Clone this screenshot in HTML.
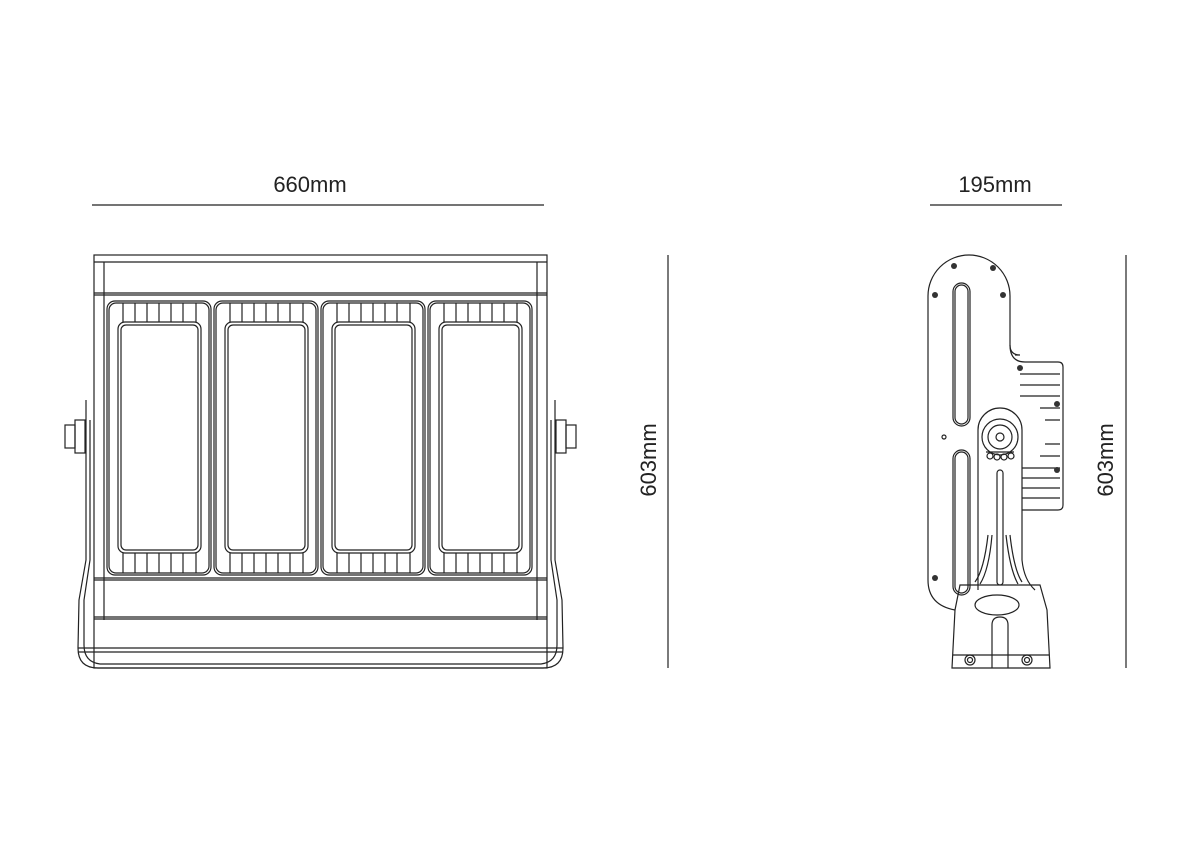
<!DOCTYPE html>
<html><head><meta charset="utf-8"><style>
html,body{margin:0;padding:0;background:#fff;}
svg{display:block}
text{font-family:"Liberation Sans",sans-serif;font-size:22px;fill:#222}
</style></head><body>
<svg width="1191" height="842" viewBox="0 0 1191 842" xmlns="http://www.w3.org/2000/svg">
<g fill="none" stroke="#222" stroke-width="1.2">
<line x1="92" y1="205" x2="544" y2="205"/>
<line x1="930" y1="205" x2="1062" y2="205"/>
<line x1="668" y1="255" x2="668" y2="668"/>
<line x1="1126" y1="255" x2="1126" y2="668"/>

<rect x="94" y="255" width="453" height="413"/>
<line x1="94" y1="262" x2="547" y2="262"/>
<line x1="104" y1="262" x2="104" y2="620"/>
<line x1="537" y1="262" x2="537" y2="620"/>
<line x1="94" y1="293" x2="547" y2="293"/>
<line x1="94" y1="295" x2="547" y2="295"/>
<line x1="94" y1="578" x2="547" y2="578"/>
<line x1="94" y1="580" x2="547" y2="580"/>
<line x1="94" y1="617" x2="547" y2="617"/>
<line x1="94" y1="619" x2="547" y2="619"/>
<line x1="78" y1="648" x2="563" y2="648"/>
<line x1="78" y1="652" x2="563" y2="652"/>
<path d="M86 400 L86 560 L79 600 L78 648 Q78 668 98 668 L543 668 Q563 668 563 648 L562 600 L555 560 L555 400"/>
<path d="M90 420 L90 560 L84 600 L84 645 Q84 662 100 664 L541 664 Q557 662 557 645 L557 600 L551 560 L551 420"/>
<rect x="65" y="425" width="10" height="23"/>
<rect x="75" y="420" width="10" height="33"/>
<rect x="566" y="425" width="10" height="23"/>
<rect x="556" y="420" width="10" height="33"/>

<g id="p">
<rect x="107" y="301" width="104" height="274" rx="8"/>
<rect x="109" y="303" width="100" height="270" rx="7"/>
<rect x="118" y="322" width="83" height="231" rx="7"/>
<rect x="121" y="325" width="77" height="225" rx="5"/>
<path d="M123 303V322M135 303V322M147 303V322M159 303V322M171 303V322M183 303V322M196 303V322"/>
<path d="M123 553V573M135 553V573M147 553V573M159 553V573M171 553V573M183 553V573M196 553V573"/>
</g>
<use href="#p" x="107"/>
<use href="#p" x="214"/>
<use href="#p" x="321"/>

<path d="M928 296 A41 41 0 0 1 1010 296 L1010 345 Q1010 355 1020 355 L1015 355"/>
<path d="M928 296 L928 580 Q928 605 955 610"/>
<path d="M1010 345 Q1010 362 1025 362 L1058 362 Q1063 362 1063 367 L1063 505 Q1063 510 1058 510 L1022 510"/>
<path d="M1020 374H1060M1020 385H1060M1020 396H1060M1040 408H1060M1045 420H1060M1045 444H1060M1040 456H1060M1022 468H1060M1022 478H1060M1022 488H1060M1022 498H1060"/>
<rect x="953" y="283" width="17" height="143" rx="8.5"/>
<rect x="955" y="285" width="13" height="139" rx="6.5"/>
<rect x="953" y="450" width="17" height="145" rx="8.5"/>
<rect x="955" y="452" width="13" height="141" rx="6.5"/>
<circle cx="944" cy="437" r="2"/>
<path d="M978 590 L978 430 A22 22 0 0 1 1022 430 L1022 560 Q1024 580 1035 590"/>
<circle cx="1000" cy="437" r="18"/>
<circle cx="1000" cy="437" r="12"/>
<circle cx="1000" cy="437" r="4"/>
<path d="M986 452h28"/>
<circle cx="990" cy="456" r="3"/><circle cx="997" cy="457" r="3"/><circle cx="1004" cy="457" r="3"/><circle cx="1011" cy="456" r="3"/>
<rect x="997" y="470" width="6" height="115" rx="3"/>
<path d="M988 535 Q984 570 975 582 M1010 535 Q1014 570 1022 582"/>
<path d="M992 535 Q989 570 980 584 M1006 535 Q1010 570 1018 584"/>
<path d="M960 585 L1040 585 L1047 610 L1050 668 L952 668 L955 610 Z"/>
<ellipse cx="997" cy="605" rx="22" ry="10"/>
<path d="M992 668 L992 625 Q992 617 1000 617 Q1008 617 1008 625 L1008 668"/>
<line x1="953" y1="655" x2="1049" y2="655"/>
<circle cx="970" cy="660" r="5"/><circle cx="970" cy="660" r="2.5"/>
<circle cx="1027" cy="660" r="5"/><circle cx="1027" cy="660" r="2.5"/>
</g>
<g fill="#333">
<circle cx="954" cy="266" r="3"/><circle cx="993" cy="268" r="3"/><circle cx="935" cy="295" r="3"/><circle cx="1003" cy="295" r="3"/>
<circle cx="1020" cy="368" r="3"/><circle cx="1057" cy="404" r="3"/><circle cx="1057" cy="470" r="3"/><circle cx="935" cy="578" r="3"/>
</g>
<text x="310" y="192" text-anchor="middle">660mm</text>
<text x="995" y="192" text-anchor="middle">195mm</text>
<text transform="translate(656 460) rotate(-90)" text-anchor="middle">603mm</text>
<text transform="translate(1113 460) rotate(-90)" text-anchor="middle">603mm</text>
</svg>
</body></html>
